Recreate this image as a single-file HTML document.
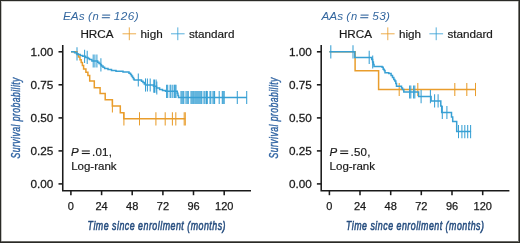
<!DOCTYPE html>
<html><head><meta charset="utf-8"><style>
html,body{margin:0;padding:0;background:#fff;}
#f{position:relative;width:520px;height:243px;overflow:hidden;box-sizing:border-box;border:1px solid #2a2a26;background:#fff;box-shadow:inset -1px 0 0 #7a7a76,inset 0 -1px 0 #6a6a66,inset 0 1px 0 #d4d4d2,inset 1px 0 0 #c4c4c2;}
svg{position:absolute;left:-1px;top:-1px;will-change:transform;filter:blur(0.3px);font-family:"Liberation Sans",sans-serif;}
</style></head><body>
<div id="f"><svg width="520" height="243" viewBox="0 0 520 243">
<g stroke="#1a1a1a" stroke-width="1.55" fill="none">
<path d="M62.75,44.9 V190.8 H251.0"/>
<line x1="58.5" y1="51.8" x2="62.75" y2="51.8"/>
<line x1="58.5" y1="84.8" x2="62.75" y2="84.8"/>
<line x1="58.5" y1="117.9" x2="62.75" y2="117.9"/>
<line x1="58.5" y1="150.9" x2="62.75" y2="150.9"/>
<line x1="58.5" y1="183.9" x2="62.75" y2="183.9"/>
<line x1="70.9" y1="190.8" x2="70.9" y2="195.2"/>
<line x1="101.6" y1="190.8" x2="101.6" y2="195.2"/>
<line x1="132.2" y1="190.8" x2="132.2" y2="195.2"/>
<line x1="162.9" y1="190.8" x2="162.9" y2="195.2"/>
<line x1="193.5" y1="190.8" x2="193.5" y2="195.2"/>
<line x1="224.2" y1="190.8" x2="224.2" y2="195.2"/>
</g>
<g font-size="11" fill="#1a1a1a" stroke="#1a1a1a" stroke-width="0.25" text-anchor="end">
<text transform="translate(53.4,55.7) scale(1.07,1)">1.00</text>
<text transform="translate(53.4,88.7) scale(1.07,1)">0.75</text>
<text transform="translate(53.4,121.8) scale(1.07,1)">0.50</text>
<text transform="translate(53.4,154.8) scale(1.07,1)">0.25</text>
<text transform="translate(53.4,187.8) scale(1.07,1)">0.00</text>
</g>
<g font-size="11" fill="#1a1a1a" stroke="#1a1a1a" stroke-width="0.25" text-anchor="middle">
<text x="70.9" y="209.9">0</text>
<text x="101.6" y="209.9">24</text>
<text x="132.2" y="209.9">48</text>
<text x="162.9" y="209.9">72</text>
<text x="193.5" y="209.9">96</text>
<text x="224.2" y="209.9">120</text>
</g>
<text x="0" y="0" font-size="13.3" font-style="italic" fill="#284f80" stroke="#284f80" stroke-width="0.6" text-anchor="middle" letter-spacing="0.74" transform="translate(156.8,229.8) scale(0.665,1)">Time since enrollment (months)</text>
<text x="0" y="0" font-size="12" font-style="italic" fill="#2f63a2" stroke="#2f63a2" stroke-width="0.4" text-anchor="middle" letter-spacing="0.62" transform="translate(19.5,117.8) rotate(-90) scale(0.72,1)">Survival probability</text>
<g stroke="#1a1a1a" stroke-width="1.55" fill="none">
<path d="M321.20,44.9 V190.8 H509.4"/>
<line x1="316.9" y1="51.8" x2="321.2" y2="51.8"/>
<line x1="316.9" y1="84.8" x2="321.2" y2="84.8"/>
<line x1="316.9" y1="117.9" x2="321.2" y2="117.9"/>
<line x1="316.9" y1="150.9" x2="321.2" y2="150.9"/>
<line x1="316.9" y1="183.9" x2="321.2" y2="183.9"/>
<line x1="329.4" y1="190.8" x2="329.4" y2="195.2"/>
<line x1="360.0" y1="190.8" x2="360.0" y2="195.2"/>
<line x1="390.7" y1="190.8" x2="390.7" y2="195.2"/>
<line x1="421.3" y1="190.8" x2="421.3" y2="195.2"/>
<line x1="452.0" y1="190.8" x2="452.0" y2="195.2"/>
<line x1="482.7" y1="190.8" x2="482.7" y2="195.2"/>
</g>
<g font-size="11" fill="#1a1a1a" stroke="#1a1a1a" stroke-width="0.25" text-anchor="end">
<text transform="translate(311.8,55.7) scale(1.07,1)">1.00</text>
<text transform="translate(311.8,88.7) scale(1.07,1)">0.75</text>
<text transform="translate(311.8,121.8) scale(1.07,1)">0.50</text>
<text transform="translate(311.8,154.8) scale(1.07,1)">0.25</text>
<text transform="translate(311.8,187.8) scale(1.07,1)">0.00</text>
</g>
<g font-size="11" fill="#1a1a1a" stroke="#1a1a1a" stroke-width="0.25" text-anchor="middle">
<text x="329.4" y="209.9">0</text>
<text x="360.0" y="209.9">24</text>
<text x="390.7" y="209.9">48</text>
<text x="421.3" y="209.9">72</text>
<text x="452.0" y="209.9">96</text>
<text x="482.7" y="209.9">120</text>
</g>
<text x="0" y="0" font-size="13.3" font-style="italic" fill="#284f80" stroke="#284f80" stroke-width="0.6" text-anchor="middle" letter-spacing="0.74" transform="translate(415.2,229.8) scale(0.665,1)">Time since enrollment (months)</text>
<text x="0" y="0" font-size="12" font-style="italic" fill="#2f63a2" stroke="#2f63a2" stroke-width="0.4" text-anchor="middle" letter-spacing="0.62" transform="translate(277.9,117.8) rotate(-90) scale(0.72,1)">Survival probability</text>
<g font-size="11.8" font-style="italic" fill="#34679f"><text x="63.0" y="19.7">EAs (</text><text x="92.6" y="19.7" font-size="11.2">n</text><text x="113.8" y="19.7" letter-spacing="0.4">126)</text></g>
<g stroke="#34679f" stroke-width="1.1"><line x1="102.2" y1="15.1" x2="110.2" y2="15.1"/><line x1="101.8" y1="17.7" x2="109.8" y2="17.7"/></g>
<g font-size="11.7" fill="#1a1a1a" stroke="#1a1a1a" stroke-width="0.2">
<text x="80.4" y="37.6">HRCA</text>
<text x="140.6" y="37.6">high</text>
<text x="189.0" y="37.6">standard</text>
</g>
<g stroke="#e99d2c" stroke-width="0.85"><line x1="122.5" y1="33.8" x2="136.1" y2="33.8"/><line x1="129.3" y1="27.4" x2="129.3" y2="40.199999999999996"/></g>
<g stroke="#38a0d4" stroke-width="0.85"><line x1="171.0" y1="33.8" x2="184.6" y2="33.8"/><line x1="177.8" y1="27.4" x2="177.8" y2="40.199999999999996"/></g>
<g font-size="11.8" font-style="italic" fill="#34679f"><text x="321.4" y="19.7">AAs (</text><text x="351.0" y="19.7" font-size="11.2">n</text><text x="372.2" y="19.7" letter-spacing="0.4">53)</text></g>
<g stroke="#34679f" stroke-width="1.1"><line x1="360.6" y1="15.1" x2="368.6" y2="15.1"/><line x1="360.2" y1="17.7" x2="368.2" y2="17.7"/></g>
<g font-size="11.7" fill="#1a1a1a" stroke="#1a1a1a" stroke-width="0.2">
<text x="338.9" y="37.6">HRCA</text>
<text x="399.0" y="37.6">high</text>
<text x="447.4" y="37.6">standard</text>
</g>
<g stroke="#e99d2c" stroke-width="0.85"><line x1="380.9" y1="33.8" x2="394.6" y2="33.8"/><line x1="387.8" y1="27.4" x2="387.8" y2="40.199999999999996"/></g>
<g stroke="#38a0d4" stroke-width="0.85"><line x1="429.4" y1="33.8" x2="443.1" y2="33.8"/><line x1="436.2" y1="27.4" x2="436.2" y2="40.199999999999996"/></g>
<g font-size="11.5" fill="#1a1a1a" stroke="#1a1a1a" stroke-width="0.2"><text x="71.0" y="155.6" font-style="italic">P</text><text x="91.9" y="155.6" letter-spacing="0.3">.01,</text><text x="71.2" y="170">Log-rank</text></g><g stroke="#1a1a1a" stroke-width="1.1"><line x1="81.8" y1="151" x2="89.8" y2="151"/><line x1="81.8" y1="153.5" x2="89.8" y2="153.5"/></g>
<g font-size="11.5" fill="#1a1a1a" stroke="#1a1a1a" stroke-width="0.2"><text x="329.4" y="155.6" font-style="italic">P</text><text x="350.4" y="155.6" letter-spacing="0.3">.50,</text><text x="329.6" y="170">Log-rank</text></g><g stroke="#1a1a1a" stroke-width="1.1"><line x1="340.2" y1="151" x2="348.2" y2="151"/><line x1="340.2" y1="153.5" x2="348.2" y2="153.5"/></g>
<path d="M71.0,51.8H77.0V54.5H78.5V57.0H80.0V59.8H81.2V62.5H82.4V65.6H83.6V69.1H85.9V72.3H87.9V75.5H89.7V81.0H94.3V87.8H100.1V93.6H105.2V99.7H112.4V105.9H120.3V112.8H123.8V118.8H185.3" fill="none" stroke="#e99d2c" stroke-width="1.5"/>
<g stroke="#e99d2c" stroke-width="1.05"><line x1="112.4" y1="99.3" x2="112.4" y2="112.5"/><line x1="123.9" y1="112.2" x2="123.9" y2="125.4"/><line x1="139.5" y1="112.2" x2="139.5" y2="125.4"/><line x1="155.9" y1="112.2" x2="155.9" y2="125.4"/><line x1="165.2" y1="112.2" x2="165.2" y2="125.4"/><line x1="172.4" y1="112.2" x2="172.4" y2="125.4"/><line x1="175.8" y1="112.2" x2="175.8" y2="125.4"/><line x1="184.2" y1="112.2" x2="184.2" y2="125.4"/><line x1="185.3" y1="112.2" x2="185.3" y2="125.4"/></g>
<path d="M71.0,51.8H74.6V52.8H76.5V53.8H78.0V54.6H80.2V55.4H82.7V56.3H85.6V57.4H88.0V58.5H89.5V59.6H91.9V61.0H97.7V62.2H99.0V63.5H100.5V64.8H101.5V66.1H103.0V67.3H104.6V68.5H108.0V69.6H111.5V70.5H116.0V71.2H123.0V72.0H129.0V73.3H130.5V74.6H131.5V76.0H132.5V77.5H133.5V79.0H134.2V80.0H141.5V81.2H143.0V82.5H144.3V84.0H145.5V85.0H153.5V86.2H156.5V88.0H159.6V89.6H162.5V90.4H165.5V91.3H177.3V93.3H177.9V95.5H178.5V97.5H246.9" fill="none" stroke="#38a0d4" stroke-width="1.5"/>
<g stroke="#38a0d4" stroke-width="1.05"><line x1="77.0" y1="47.2" x2="77.0" y2="60.4"/><line x1="84.6" y1="49.7" x2="84.6" y2="62.9"/><line x1="87.2" y1="50.8" x2="87.2" y2="64.0"/><line x1="93.2" y1="54.4" x2="93.2" y2="67.6"/><line x1="94.9" y1="54.4" x2="94.9" y2="67.6"/><line x1="96.9" y1="54.4" x2="96.9" y2="67.6"/><line x1="100.9" y1="58.2" x2="100.9" y2="71.4"/><line x1="138.3" y1="73.4" x2="138.3" y2="86.6"/><line x1="145.5" y1="78.4" x2="145.5" y2="91.6"/><line x1="147.4" y1="78.4" x2="147.4" y2="91.6"/><line x1="150.2" y1="78.4" x2="150.2" y2="91.6"/><line x1="153.8" y1="79.6" x2="153.8" y2="92.8"/><line x1="154.5" y1="79.6" x2="154.5" y2="92.8"/><line x1="156.1" y1="79.6" x2="156.1" y2="92.8"/><line x1="156.8" y1="81.4" x2="156.8" y2="94.6"/><line x1="166.6" y1="84.7" x2="166.6" y2="97.9"/><line x1="167.7" y1="84.7" x2="167.7" y2="97.9"/><line x1="170.1" y1="84.7" x2="170.1" y2="97.9"/><line x1="170.9" y1="84.7" x2="170.9" y2="97.9"/><line x1="172.8" y1="84.7" x2="172.8" y2="97.9"/><line x1="174.4" y1="84.7" x2="174.4" y2="97.9"/><line x1="175.2" y1="84.7" x2="175.2" y2="97.9"/><line x1="176.0" y1="84.7" x2="176.0" y2="97.9"/><line x1="181.0" y1="90.9" x2="181.0" y2="104.1"/><line x1="182.0" y1="90.9" x2="182.0" y2="104.1"/><line x1="183.0" y1="90.9" x2="183.0" y2="104.1"/><line x1="183.8" y1="90.9" x2="183.8" y2="104.1"/><line x1="186.0" y1="90.9" x2="186.0" y2="104.1"/><line x1="187.2" y1="90.9" x2="187.2" y2="104.1"/><line x1="188.3" y1="90.9" x2="188.3" y2="104.1"/><line x1="191.0" y1="90.9" x2="191.0" y2="104.1"/><line x1="192.0" y1="90.9" x2="192.0" y2="104.1"/><line x1="193.0" y1="90.9" x2="193.0" y2="104.1"/><line x1="193.9" y1="90.9" x2="193.9" y2="104.1"/><line x1="195.0" y1="90.9" x2="195.0" y2="104.1"/><line x1="196.0" y1="90.9" x2="196.0" y2="104.1"/><line x1="197.0" y1="90.9" x2="197.0" y2="104.1"/><line x1="198.0" y1="90.9" x2="198.0" y2="104.1"/><line x1="199.0" y1="90.9" x2="199.0" y2="104.1"/><line x1="200.0" y1="90.9" x2="200.0" y2="104.1"/><line x1="201.0" y1="90.9" x2="201.0" y2="104.1"/><line x1="201.8" y1="90.9" x2="201.8" y2="104.1"/><line x1="204.0" y1="90.9" x2="204.0" y2="104.1"/><line x1="205.0" y1="90.9" x2="205.0" y2="104.1"/><line x1="206.5" y1="90.9" x2="206.5" y2="104.1"/><line x1="207.3" y1="90.9" x2="207.3" y2="104.1"/><line x1="210.0" y1="90.9" x2="210.0" y2="104.1"/><line x1="210.8" y1="90.9" x2="210.8" y2="104.1"/><line x1="213.0" y1="90.9" x2="213.0" y2="104.1"/><line x1="214.0" y1="90.9" x2="214.0" y2="104.1"/><line x1="214.6" y1="90.9" x2="214.6" y2="104.1"/><line x1="219.2" y1="90.9" x2="219.2" y2="104.1"/><line x1="222.3" y1="90.9" x2="222.3" y2="104.1"/><line x1="223.2" y1="90.9" x2="223.2" y2="104.1"/><line x1="224.2" y1="90.9" x2="224.2" y2="104.1"/><line x1="237.3" y1="90.9" x2="237.3" y2="104.1"/><line x1="246.7" y1="90.9" x2="246.7" y2="104.1"/></g>
<path d="M329.4,51.8H355.1V70.8H378.6V89.5H475.7" fill="none" stroke="#e99d2c" stroke-width="1.5"/>
<g stroke="#e99d2c" stroke-width="1.05"><line x1="399.2" y1="82.9" x2="399.2" y2="96.1"/><line x1="417.8" y1="82.9" x2="417.8" y2="96.1"/><line x1="454.8" y1="82.9" x2="454.8" y2="96.1"/><line x1="466.8" y1="82.9" x2="466.8" y2="96.1"/><line x1="475.5" y1="82.9" x2="475.5" y2="96.1"/></g>
<path d="M329.4,51.8H354.8V57.4H371.7V59.5H372.6V62.0H373.4V64.5H374.0V66.6H382.1V67.3H383.2V69.3H384.2V70.5H385.0V72.8H388.8V73.6H391.1V75.5H392.5V77.5H393.8V79.5H394.8V81.0H395.8V83.5H396.5V86.3H401.5V88.0H402.5V89.5H403.8V92.0H418.6V96.6H431.1V100.9H440.8V106.0H441.7V112.5H451.5V117.0H452.7V121.6H456.7V131.6H471.1" fill="none" stroke="#38a0d4" stroke-width="1.5"/>
<g stroke="#38a0d4" stroke-width="1.05"><line x1="330.8" y1="45.2" x2="330.8" y2="58.4"/><line x1="353.0" y1="45.2" x2="353.0" y2="58.4"/><line x1="369.2" y1="50.8" x2="369.2" y2="64.0"/><line x1="372.7" y1="55.4" x2="372.7" y2="68.6"/><line x1="409.6" y1="85.4" x2="409.6" y2="98.6"/><line x1="410.8" y1="85.4" x2="410.8" y2="98.6"/><line x1="413.6" y1="85.4" x2="413.6" y2="98.6"/><line x1="414.8" y1="85.4" x2="414.8" y2="98.6"/><line x1="421.1" y1="90.0" x2="421.1" y2="103.2"/><line x1="430.4" y1="90.0" x2="430.4" y2="103.2"/><line x1="434.6" y1="94.3" x2="434.6" y2="107.5"/><line x1="438.1" y1="94.3" x2="438.1" y2="107.5"/><line x1="442.3" y1="105.9" x2="442.3" y2="119.1"/><line x1="446.9" y1="105.9" x2="446.9" y2="119.1"/><line x1="458.5" y1="125.0" x2="458.5" y2="138.2"/><line x1="461.9" y1="125.0" x2="461.9" y2="138.2"/><line x1="464.8" y1="125.0" x2="464.8" y2="138.2"/><line x1="467.7" y1="125.0" x2="467.7" y2="138.2"/><line x1="470.6" y1="125.0" x2="470.6" y2="138.2"/></g>
</svg></div>
</body></html>
